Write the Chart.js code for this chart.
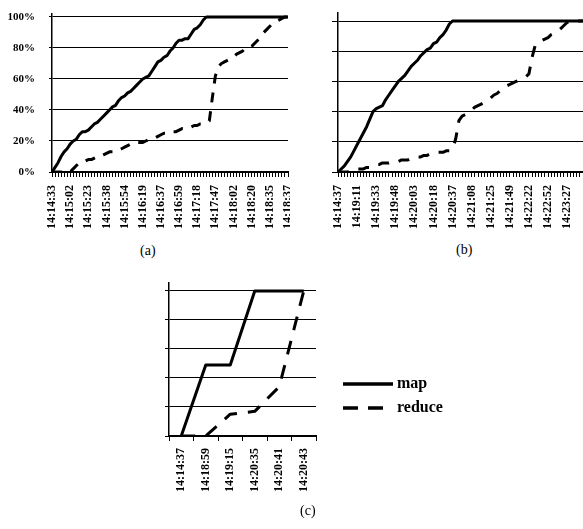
<!DOCTYPE html>
<html><head><meta charset="utf-8">
<script src="https://cdn.jsdelivr.net/npm/chart.js@4/dist/chart.umd.min.js"></script>
<style>
html,body{margin:0;padding:0;background:#fff;width:583px;height:529px;overflow:hidden;position:relative}
.box{position:absolute}
.cap{position:absolute;font-family:"Liberation Serif",serif;font-size:14px;color:#000;line-height:14px;white-space:nowrap}
</style></head><body>
<div class="box" style="left:0;top:0;width:290px;height:232px"><canvas id="ca"></canvas></div>
<div class="box" style="left:290px;top:0;width:293px;height:232px"><canvas id="cb"></canvas></div>
<div class="box" style="left:150px;top:270px;width:320px;height:237px"><canvas id="cc"></canvas></div>
<div class="cap" style="left:140px;top:244px">(a)</div>
<div class="cap" style="left:456px;top:243px">(b)</div>
<div class="cap" style="left:300px;top:504px">(c)</div>
<script>
// ---------- data ----------
const tickLabelsA = ['14:14:33','14:15:02','14:15:23','14:15:38','14:15:54','14:16:19','14:16:37','14:16:59','14:17:18','14:17:47','14:18:02','14:18:20','14:18:35','14:18:37'];
const mapA = [0,3,6,10,13,15,18,20,21,24,
  26,26,27,29,31,32,34,36,38,40,
  42,43,46,48,49,51,52,54,56,58,
  60,61,62,65,68,71,72,74,75,78,
  80,83,85,85,86,86,89,92,93,95,
  98,100,100,100,100,100,100,100,100,100,
  100,100,100,100,100,100,100,100,100,100,
  100,100,100,100,100,100,100,100,100];
const reduceA = [0,0,0,0,0,0,0,
  2,4,6,6,7,8,8,9,10,10,
  11,12,13,13,14,14,15,16,17,18,
  19,19,19,19,20,21,21,22,23,24,
  25,25,26,26,26,27,28,28,29,29,
  30,30,31,31,32,33,48,62,68,70,
  71,72,73,74,76,77,78,80,80,81,
  83,85,87,90,92,94,96,97,98,99,100,100];

const tickLabelsB = ['14:14:37','14:19:11','14:19:33','14:19:48','14:20:03','14:20:18','14:20:37','14:21:08','14:21:25','14:21:49','14:22:22','14:22:52','14:23:27'];
const mapB = [0,2,4,7,10,14,18,22,26,30,
  35,40,42,43,44,48,51,54,57,60,
  62,64,67,70,72,74,77,79,81,82,
  85,86,89,91,94,98,
  100,100,100,100,100,100,100,100,100,100,
  100,100,100,100,100,100,100,100,100,100,
  100,100,100,100,100,100,100,100,100,100,
  100,100,100,100,100,100,100,100,100,100,100,100];
const reduceB = [0,0,0,0,1,1,2,2,2,3,
  3,4,5,5,6,6,6,7,7,7,
  8,8,8,9,9,10,10,11,11,12,
  12,13,13,13,14,14,15,22,34,37,
  38,39,41,43,44,45,46,47,49,51,
  52,54,55,57,58,59,60,61,62,63,
  65,76,84,86,87,88,89,91,92,93,
  95,97,99,100,100,100,100,100];

const categoriesC = ['14:14:37','14:18:59','14:19:15','14:20:35','14:20:41','14:20:43'];
const mapC = [0,49,49,100,100,100];
const reduceC = [0,0,15,17,34,100];

const seriesNames = ['map','reduce'];

// ---------- helpers ----------
const FONT = '"Liberation Serif", "Times New Roman", serif';
Chart.defaults.font.family = FONT;
Chart.defaults.color = '#000';
Chart.defaults.animation = false;

function buildLabels(ticks, step, n) {
  const out = new Array(n).fill('');
  ticks.forEach((t, k) => { if (k * step < n) out[k * step] = t; });
  return out;
}
function lineDs(label, data, dash) {
  return {label, data, borderColor:'#000', backgroundColor:'#000', borderWidth:3,
    borderDash: dash || [], pointRadius:0, pointHoverRadius:0, tension:0, fill:false,
    borderCapStyle:'butt', borderJoinStyle:'round'};
}
function xScale(o) {
  return {
    type:'category', offset: !!o.offset,
    grid:{display:true, drawOnChartArea:false, drawTicks:true, tickLength:o.tickLen, color:'#000', lineWidth:1, offset: !!o.offset},
    border:{display:true, color:'#000', width:2},
    ticks:{autoSkip:false, maxRotation:90, minRotation:90, padding:o.pad,
      font:{size:12, weight:'bold', family:FONT}, color:'#000'},
    afterFit(s){ s.height = o.height; s.paddingLeft = 0; s.paddingRight = 0; }
  };
}
function yScale(o) {
  return {
    type:'linear', min:0, max:o.max,
    grid:{color:'#000', lineWidth:1, tickLength:o.tickLen, drawTicks:true},
    border:{display:true, color:'#000', width:1.5},
    ticks:{stepSize:20, includeBounds:false, padding:o.pad,
      font:{size:11, weight:'bold', family:FONT}, color:'#000',
      callback: v => o.showLabels ? v + '%' : ''},
    afterFit(s){ s.width = o.width; s.paddingTop = 0; s.paddingBottom = 0; }
  };
}
const baseOpts = {responsive:true, maintainAspectRatio:false, animation:false, events:[]};

// legend for (c): line sample + label, drawn to the right of the plot area
const sideLegend = {
  id:'sideLegend',
  afterDraw(chart) {
    const ctx = chart.ctx, a = chart.chartArea;
    const x0 = a.right + 27, w = 50;
    const dashes = [[], [15, 10]];
    chart.data.datasets.forEach((ds, i) => {
      const y = a.bottom - 52 + i * 24;
      ctx.save();
      ctx.strokeStyle = '#000';
      ctx.lineWidth = 3.5;
      ctx.lineCap = 'butt';
      ctx.setLineDash(dashes[i] || []);
      ctx.beginPath();
      ctx.moveTo(x0, y);
      ctx.lineTo(x0 + w, y);
      ctx.stroke();
      ctx.setLineDash([]);
      ctx.fillStyle = '#000';
      ctx.font = 'bold 16px ' + FONT;
      ctx.textAlign = 'left';
      ctx.textBaseline = 'middle';
      ctx.fillText(ds.label, x0 + w + 4, y);
      ctx.restore();
    });
  }
};

// ---------- (a) ----------
new Chart(document.getElementById('ca'), {
  type:'line',
  data:{labels: buildLabels(tickLabelsA, 6, mapA.length),
    datasets:[lineDs(seriesNames[0], mapA), lineDs(seriesNames[1], reduceA, [10,9])]},
  options:Object.assign({}, baseOpts, {
    layout:{padding:{top:14, right:2, left:0, bottom:0}},
    plugins:{legend:{display:false}, tooltip:{enabled:false}},
    scales:{x: xScale({tickLen:5, pad:8, height:60}),
            y: yScale({max:101.9, tickLen:3, pad:14, width:52, showLabels:true})}
  })
});

// ---------- (b) ----------
new Chart(document.getElementById('cb'), {
  type:'line',
  data:{labels: buildLabels(tickLabelsB, 6, mapB.length),
    datasets:[lineDs(seriesNames[0], mapB), lineDs(seriesNames[1], reduceB, [11,10])]},
  options:Object.assign({}, baseOpts, {
    layout:{padding:{top:13, right:0, left:0, bottom:0}},
    plugins:{legend:{display:false}, tooltip:{enabled:false}},
    scales:{x: xScale({tickLen:5, pad:8, height:60}),
            y: yScale({max:105.3, tickLen:6, pad:2, width:48, showLabels:false})}
  })
});

// ---------- (c) ----------
new Chart(document.getElementById('cc'), {
  type:'line',
  data:{labels: categoriesC,
    datasets:[lineDs(seriesNames[0], mapC), lineDs(seriesNames[1], reduceC, [14,11])]},
  options:Object.assign({}, baseOpts, {
    layout:{padding:{top:13, right:154, left:0, bottom:0}},
    plugins:{legend:{display:false}, tooltip:{enabled:false}},
    scales:{x: xScale({tickLen:5, pad:7, height:71, offset:true}),
            y: yScale({max:105.5, tickLen:4, pad:2, width:19, showLabels:false})}
  }),
  plugins:[sideLegend]
});
</script>
</body></html>
